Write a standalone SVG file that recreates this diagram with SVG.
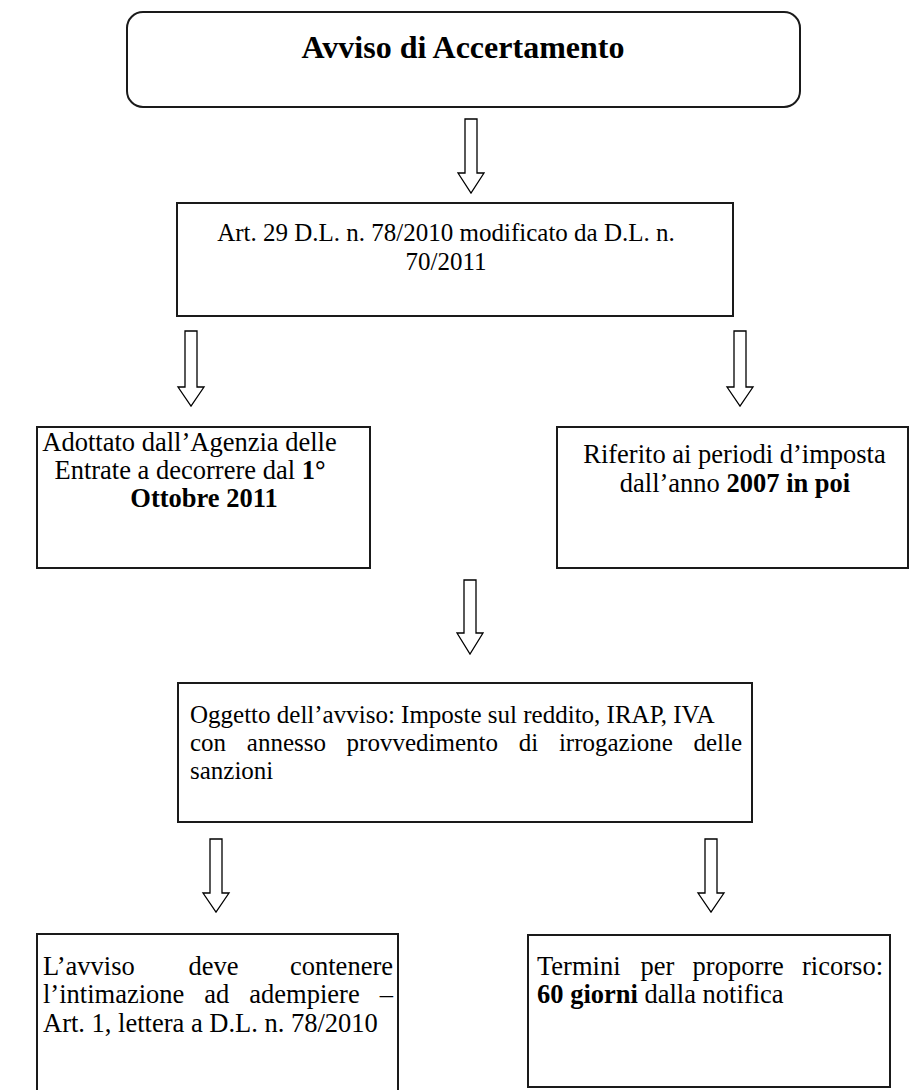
<svg xmlns="http://www.w3.org/2000/svg" width="910" height="1090" viewBox="0 0 910 1090">
<style>
.box{fill:#fff;stroke:#1a1a1a;stroke-width:2}
.arr{fill:#fff;stroke:#000;stroke-width:1.3;stroke-linejoin:miter}
text{font-family:"Liberation Serif","Times New Roman",serif;font-size:26.5px;fill:#000}
.s{font-size:25px}
.b{font-weight:bold}
.c{text-anchor:middle}
.e{text-anchor:end}
.t{font-size:32px;font-weight:bold}
</style>
<rect width="910" height="1090" fill="#fff"/>
<g id="connectors">
<path class="arr" d="M465,119 H477 V173 H484 L471,193 L458,173 H465 Z"/>
<path class="arr" d="M185,331 H197 V387 H204 L191,406 L178,387 H185 Z"/>
<path class="arr" d="M734,331 H746 V387 H753 L740,406 L727,387 H734 Z"/>
<path class="arr" d="M464,580 H476 V633 H483 L470,654 L457,633 H464 Z"/>
<path class="arr" d="M210,839 H222 V893 H229 L216,912 L203,893 H210 Z"/>
<path class="arr" d="M705,839 H717 V893 H724 L711,912 L698,893 H705 Z"/>
</g>
<g id="n1">
<rect class="box" x="127" y="12" width="673" height="95" rx="16"/>
<text class="t c" x="463" y="58">Avviso di Accertamento</text>
</g>
<g id="n2">
<rect class="box" x="177" y="203" width="556" height="113"/>
<text class="s c" x="446" y="241">Art. 29 D.L. n. 78/2010 modificato da D.L. n.</text>
<text class="s c" x="446" y="270">70/2011</text>
</g>
<g id="n3">
<rect class="box" x="37" y="427" width="333" height="141"/>
<text class="c" x="189.5" y="451">Adottato dall’Agenzia delle</text>
<text class="c" x="190" y="479">Entrate a decorrere dal <tspan class="b">1°</tspan></text>
<text class="c b" x="204" y="507">Ottobre 2011</text>
</g>
<g id="n4">
<rect class="box" x="557" y="427" width="351" height="141"/>
<text class="c" x="734.5" y="463">Riferito ai periodi d’imposta</text>
<text class="c" x="735" y="492">dall’anno <tspan class="b">2007 in poi</tspan></text>
</g>
<g id="n5">
<rect class="box" x="178" y="683" width="574" height="139"/>
<text class="s" x="190" y="723">Oggetto dell’avviso: Imposte sul reddito, IRAP, IVA</text>
<text class="s" y="751"><tspan x="190">con</tspan><tspan x="246.8">annesso</tspan><tspan x="346.6">provvedimento</tspan><tspan x="518.7">di</tspan><tspan x="558.9">irrogazione</tspan></text>
<text class="s e" x="742" y="751">delle</text>
<text class="s" x="190" y="779">sanzioni</text>
</g>
<g id="n6">
<rect class="box" x="37" y="934" width="361" height="170"/>
<text y="975"><tspan x="43">L’avviso</tspan><tspan x="188.6">deve</tspan></text>
<text class="e" x="393" y="975">contenere</text>
<text y="1003"><tspan x="43">l’intimazione</tspan><tspan x="204.3">ad</tspan><tspan x="249.3">adempiere</tspan></text>
<text class="e" x="393" y="1003">–</text>
<text x="43" y="1032">Art. 1, lettera a D.L. n. 78/2010</text>
</g>
<g id="n7">
<rect class="box" x="528" y="935" width="362" height="152"/>
<text y="975"><tspan x="537">Termini</tspan><tspan x="640.6">per</tspan><tspan x="692.6">proporre</tspan></text>
<text class="e" x="883" y="975">ricorso:</text>
<text x="537" y="1003"><tspan class="b">60 giorni</tspan> dalla notifica</text>
</g>
</svg>
